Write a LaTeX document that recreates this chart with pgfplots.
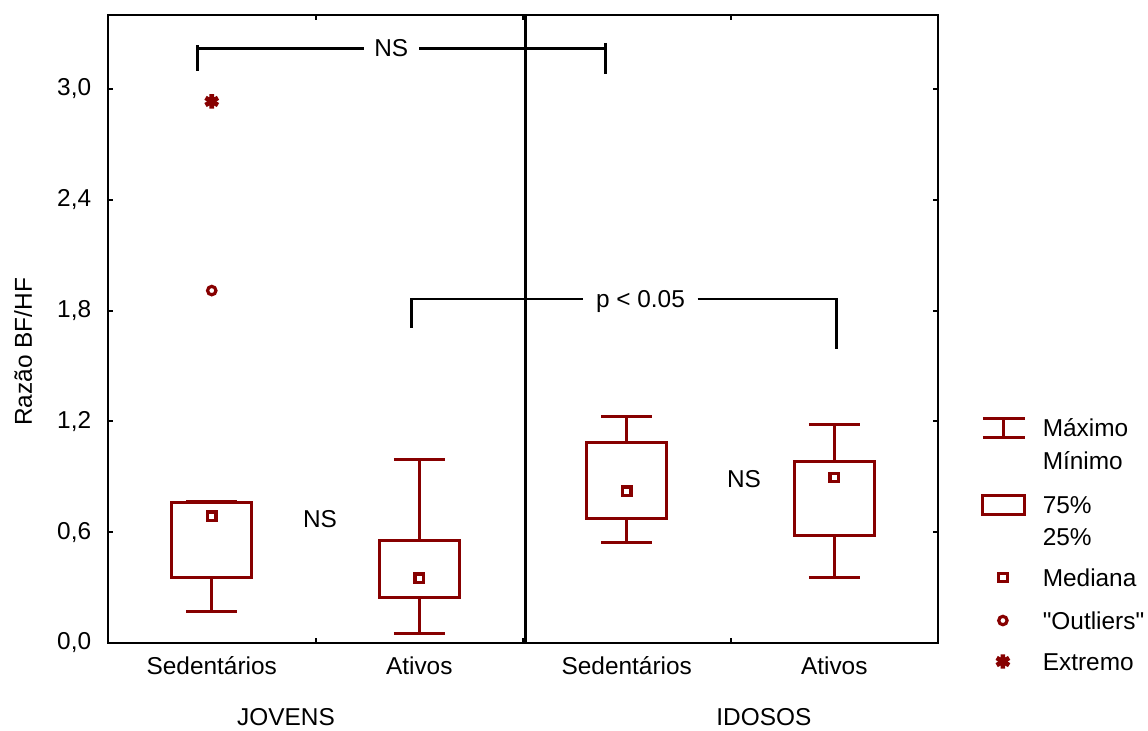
\documentclass[border=0pt]{standalone}
\usepackage{fontspec}
\setmainfont{Liberation Sans}
\usepackage{pgfplots}
\pgfplotsset{compat=1.18}
\usepgfplotslibrary{statistics}
\definecolor{boxred}{RGB}{135,0,0}
\newcommand\chartfont{\fontsize{12.2}{16.5}\selectfont}
% legend row: text with a strut of given height above the baseline
\newcommand\entry[2]{\rule[-4pt]{0pt}{\dimexpr#1+4pt\relax}#2}

\begin{document}
\begin{tikzpicture}[font=\chartfont]
\begin{axis}[
  scale only axis, width=415pt, height=314pt,
  xmin=-0.5, xmax=3.5, ymin=0, ymax=3.4,
  clip=false,
  axis line style={line width=1.3pt},
  tick align=inside,
  major tick length=2.6pt,
  tick style={black, line width=1pt},
  ytick={0,0.6,1.2,1.8,2.4,3.0},
  yticklabel style={
    /pgf/number format/use comma,
    /pgf/number format/fixed,
    /pgf/number format/fixed zerofill,
    /pgf/number format/precision=1,
    /pgf/number format/assume math mode=true,
    xshift=-4.9pt},
  xtick={0.5,1.5,2.5}, xticklabels={},
  extra x ticks={0,1,2,3},
  extra x tick labels={Sedentários,Ativos,Sedentários,Ativos},
  extra x tick style={major tick length=0pt},
  xticklabel style={text height=9pt, text depth=3pt, yshift=-3.3pt},
  boxplot/draw direction=y,
  legend style={at={(rel axis cs:1.0518,0.3611)}, anchor=north west,
    draw=none, fill=none, inner sep=0pt, outer sep=0pt,
    row sep=0pt, column sep=8pt, nodes={inner sep=0pt},
    font=\chartfont},
  legend cell align=left,
]

% legend keys
\addlegendimage{legend image code/.code={
  \path (-0.75pt,0pt) (21.75pt,0pt);
  \draw[boxred, line width=1.5pt, yshift=0.1pt]
    (0pt,4.75pt) -- (21pt,4.75pt) (0pt,-4.75pt) -- (21pt,-4.75pt)
    (10.5pt,4.75pt) -- (10.5pt,-4.75pt);}}
\addlegendentry{\entry{10pt}{Máximo}}
\addlegendimage{empty legend}
\addlegendentry{\entry{15pt}{Mínimo}}
\addlegendimage{legend image code/.code={
  \path (-0.75pt,0pt) (21.75pt,0pt);
  \draw[boxred, line width=1.5pt, yshift=-5.15pt]
    (0pt,-4.75pt) rectangle (21pt,4.75pt);}}
\addlegendentry{\entry{20.5pt}{75\%}}
\addlegendimage{empty legend}
\addlegendentry{\entry{14.5pt}{25\%}}
\addlegendimage{legend image code/.code={
  \path (-0.75pt,0pt) (21.75pt,0pt);
  \path[draw=boxred, line width=1.6pt, yshift=-4.4pt]
    plot[mark=square, mark size=2.1pt] coordinates {(10pt,0pt)};}}
\addlegendentry{\entry{19pt}{Mediana}}
\addlegendimage{legend image code/.code={
  \path (-0.75pt,0pt) (21.75pt,0pt);
  \path[draw=boxred, line width=1.6pt, yshift=-4.9pt]
    plot[mark=o, mark size=2.1pt] coordinates {(10pt,0pt)};}}
\addlegendentry{\entry{20pt}{\textquotedbl Outliers\textquotedbl}}
\addlegendimage{legend image code/.code={
  \path (-0.75pt,0pt) (21.75pt,0pt);
  \path[draw=boxred, line width=2.3pt, yshift=-4.4pt]
    plot[mark=asterisk, mark size=3.6pt] coordinates {(10pt,0pt)};}}
\addlegendentry{\entry{19pt}{Extremo}}

% group divider
\addplot[black, line width=1.3pt, forget plot] coordinates {(1.512,0) (1.512,3.4)};

% boxes: min, 25%, median, 75%, max
\pgfplotsset{boxstyle/.style={draw=boxred, line width=1.5pt, forget plot,
  boxplot/draw/median/.code={}}}
\addplot[boxstyle, boxplot prepared={draw position=0,
  lower whisker=0.168, lower quartile=0.357, median=0.686,
  upper quartile=0.762, upper whisker=0.768,
  box extend=0.385, whisker extend=0.245}] coordinates {};
\addplot[boxstyle, boxplot prepared={draw position=1,
  lower whisker=0.049, lower quartile=0.249, median=0.351,
  upper quartile=0.557, upper whisker=0.995,
  box extend=0.385, whisker extend=0.245}] coordinates {};
\addplot[boxstyle, boxplot prepared={draw position=2,
  lower whisker=0.546, lower quartile=0.676, median=0.822,
  upper quartile=1.086, upper whisker=1.227,
  box extend=0.385, whisker extend=0.245}] coordinates {};
\addplot[boxstyle, boxplot prepared={draw position=3,
  lower whisker=0.357, lower quartile=0.584, median=0.897,
  upper quartile=0.984, upper whisker=1.184,
  box extend=0.385, whisker extend=0.245}] coordinates {};

% medians
\addplot[only marks, mark=square, mark size=2.1pt, draw=boxred,
  line width=1.6pt, forget plot]
  coordinates {(0,0.686) (1,0.351) (2,0.822) (3,0.897)};
% outlier and extreme value
\addplot[only marks, mark=o, mark size=2.1pt, draw=boxred,
  line width=1.6pt, forget plot] coordinates {(0,1.908)};
\addplot[only marks, mark=asterisk, mark size=3.6pt, draw=boxred,
  line width=2.3pt, forget plot] coordinates {(0,2.932)};

% comparison brackets
\addplot[black, line width=1.3pt, forget plot, unbounded coords=jump]
  coordinates {(-0.069,3.097) (-0.069,3.235) (nan,nan)
               (-0.069,3.220) (0.736,3.220) (nan,nan)
               (1.0,3.220) (1.899,3.220) (nan,nan)
               (1.899,3.249) (1.899,3.082)};
\addplot[black, line width=1.3pt, forget plot, unbounded coords=jump]
  coordinates {(0.962,1.708) (0.962,1.866) (nan,nan)
               (0.962,1.863) (1.788,1.863) (nan,nan)
               (2.341,1.863) (3.01,1.863) (nan,nan)
               (3.01,1.866) (3.01,1.589)};

\begin{scope}[every node/.style={text height=8.7pt, text depth=0pt, inner sep=0pt}]
\node at (axis cs:0.865,3.220) {NS};
\node at (axis cs:2.066,1.863) {p < 0.05};
\node at (axis cs:0.522,0.673) {NS};
\node at (axis cs:2.565,0.891) {NS};
\node at (axis cs:0.358,-0.400) {JOVENS};
\node at (axis cs:2.661,-0.400) {IDOSOS};
\node[rotate=90] at (axis cs:-0.909,1.576) {Razão BF/HF};
\end{scope}
\end{axis}
\pgfresetboundingbox
\path[use as bounding box]
  ([shift={(-54pt,-43.75pt)}]current axis.south west)
  rectangle ([shift={(105pt,7.5pt)}]current axis.north east);
\end{tikzpicture}
\end{document}
